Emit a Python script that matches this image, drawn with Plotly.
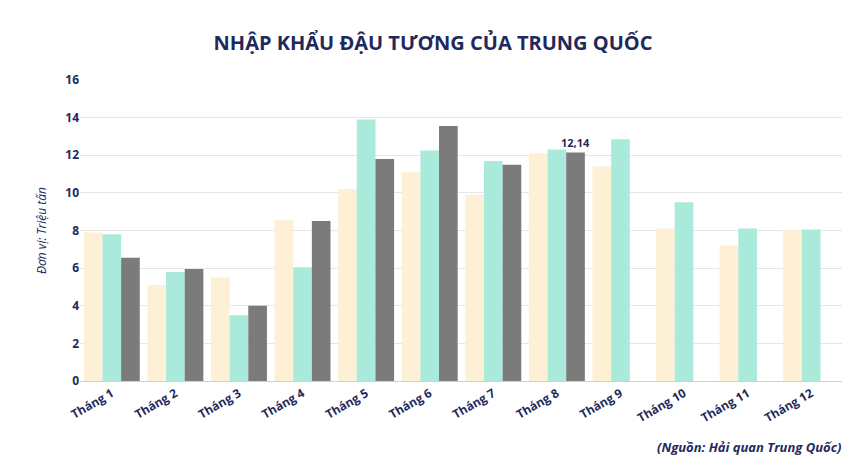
import plotly.graph_objects as go

months = ["Tháng 1", "Tháng 2", "Tháng 3", "Tháng 4", "Tháng 5", "Tháng 6",
          "Tháng 7", "Tháng 8", "Tháng 9", "Tháng 10", "Tháng 11", "Tháng 12"]
y2021 = [7.9, 5.1, 5.5, 8.55, 10.2, 11.1, 9.9, 12.1, 11.4, 8.1, 7.2, 8.0]
y2022 = [7.8, 5.8, 3.5, 6.05, 13.9, 12.25, 11.7, 12.3, 12.85, 9.5, 8.1, 8.05]
y2023 = [6.55, 5.95, 4.0, 8.5, 11.8, 13.55, 11.5, 12.14]
labels2023 = [""] * 7 + ["<b>12,14</b>"]

navy = "#1f2a5c"
fig = go.Figure()
fig.add_bar(x=months, y=y2021, marker_color="#fdf0d5", name="2021")
fig.add_bar(x=months, y=y2022, marker_color="#aaeadb", name="2022")
fig.add_bar(x=months[:8], y=y2023, marker_color="#7b7b7b", name="2023",
            text=labels2023, textposition="outside", cliponaxis=False,
            textfont=dict(color=navy, size=11, family="Open Sans"))

fig.update_layout(
    width=850, height=470, template="none", showlegend=False,
    paper_bgcolor="white", plot_bgcolor="white",
    margin=dict(l=72, r=15, t=72, b=97),
    bargap=0.12, bargroupgap=0.0,
    font=dict(family="Open Sans", color=navy),
    uniformtext=dict(minsize=11, mode="show"),
    title=dict(text="<b>NHẬP KHẨU ĐẬU TƯƠNG CỦA TRUNG QUỐC</b>", x=0.5, y=0.94,
               font=dict(size=20, color=navy)),
    yaxis=dict(range=[0, 16], dtick=2, gridcolor="#e6e6e6", zeroline=False,
               tickfont=dict(size=12, color=navy),
               title=dict(text="<i>Đơn vị: Triệu tấn</i>", font=dict(size=12, color=navy)),
               tickprefix="<b>", ticksuffix="</b>"),
    xaxis=dict(tickangle=-30, tickfont=dict(size=12, color=navy), showgrid=False,
               showline=True, linecolor="#d0d0d0",
               tickprefix="<b>", ticksuffix="</b>"),
)
fig.add_annotation(text="<b><i>(Nguồn: Hải quan Trung Quốc)</i></b>", xref="paper", yref="paper",
                   x=1, y=-0.255, xanchor="right", showarrow=False,
                   font=dict(size=13, color=navy))
fig.write_html("out.html")
